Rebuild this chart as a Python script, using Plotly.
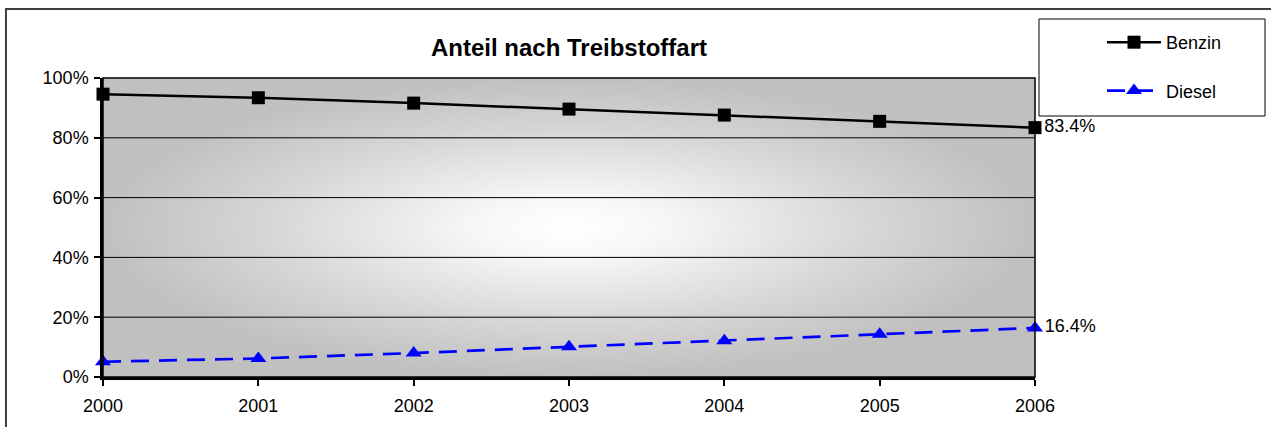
import plotly.graph_objects as go

years = [2000, 2001, 2002, 2003, 2004, 2005, 2006]
benzin = [94.6, 93.4, 91.6, 89.6, 87.6, 85.5, 83.4]
diesel = [5.1, 6.2, 8.0, 10.1, 12.1, 14.3, 16.4]
y_ticks = [0, 20, 40, 60, 80, 100]
y_tick_labels = ["0%", "20%", "40%", "60%", "80%", "100%"]
title_text = "Anteil nach Treibstoffart"
series_names = ["Benzin", "Diesel"]

FONT = "Arial, Liberation Sans, sans-serif"

def last_label(vals):
    return [""] * (len(vals) - 1) + [f"{vals[-1]:.1f}%"]

fig = go.Figure()

# gradient background of the plot area
x0, x1 = years[0], years[-1]
y0, y1 = y_ticks[0], y_ticks[-1]
fig.add_trace(go.Scatter(
    x=[x0, x1, x1, x0, x0], y=[y0, y0, y1, y1, y0],
    mode="lines", fill="toself", line=dict(width=0),
    fillgradient=dict(type="radial",
                      colorscale=[[0, "#ffffff"], [0.2, "#f7f7f7"], [0.65, "#d6d6d6"], [1, "#c0c0c0"]]),
    hoverinfo="skip", showlegend=False,
))

fig.add_trace(go.Scatter(
    x=years, y=benzin, name=series_names[0],
    mode="lines+markers+text",
    line=dict(color="black", width=2.5),
    marker=dict(symbol="square", size=13, color="black"),
    text=last_label(benzin), textposition="middle right",
    textfont=dict(family=FONT, size=18, color="black"),
    cliponaxis=False, legendgroup="a",
))
fig.add_trace(go.Scatter(
    x=years, y=diesel, name=series_names[1],
    mode="lines+markers+text",
    line=dict(color="#0000ff", width=2.7, dash="18px,10px"),
    marker=dict(symbol="triangle-up", size=14, color="#0000ff"),
    text=last_label(diesel), textposition="middle right",
    textfont=dict(family=FONT, size=18, color="black"),
    cliponaxis=False, legendgroup="b",
))

T, B = 78, 50
PH = 427 - T - B
def py(px):
    return (427 - B - px) / PH

# gridlines (drawn above gradient fill)
for t in y_ticks[1:-1]:
    fig.add_shape(type="line", xref="paper", yref="y", x0=0, x1=1, y0=t, y1=t,
                  line=dict(color="black", width=1), layer="above")
# plot-area border
fig.add_shape(type="rect", xref="paper", yref="paper", x0=0, x1=1, y0=0, y1=1,
              line=dict(color="black", width=1.5), layer="above")
# outer chart frame
fig.add_shape(type="rect", xref="paper", yref="paper", x0=-0.1041, x1=1.3, y0=-0.3, y1=py(9),
              line=dict(color="#404040", width=2), layer="above")
# legend frame
fig.add_shape(type="rect", xref="paper", yref="paper",
              x0=(1039 - 103) / 932, x1=(1265 - 103) / 932,
              y0=py(116), y1=py(19),
              line=dict(color="black", width=1), fillcolor="white", layer="below")

fig.update_layout(
    width=1271, height=427,
    margin=dict(l=103, r=236, t=T, b=B),
    paper_bgcolor="white", plot_bgcolor="#c0c0c0",
    font=dict(family=FONT, size=18, color="black"),
    title=dict(text=f"<b>{title_text}</b>", x=0.5, xref="paper", xanchor="center",
               y=1 - 48 / 427, yref="container", yanchor="middle",
               font=dict(family=FONT, size=24, color="black")),
    showlegend=True,
    legend=dict(x=(1102 - 103) / 932, y=py(24), xanchor="left", yanchor="top",
                bgcolor="rgba(0,0,0,0)", borderwidth=0,
                font=dict(family=FONT, size=18, color="black"),
                traceorder="grouped", tracegroupgap=22,
                itemwidth=54),
    xaxis=dict(range=[x0, x1], tickmode="array", tickvals=years,
               ticktext=[str(y) for y in years],
               showgrid=False, zeroline=False, showline=True, linecolor="black", linewidth=2.5,
               ticks="outside", ticklen=6, tickwidth=2, tickcolor="black",
               ticklabelstandoff=5, tickfont=dict(family=FONT, size=18)),
    yaxis=dict(range=[y0, y1], tickmode="array", tickvals=y_ticks, ticktext=y_tick_labels,
               showgrid=False, zeroline=False, showline=True, linecolor="black", linewidth=2.5,
               ticks="outside", ticklen=6, tickwidth=2, tickcolor="black",
               ticklabelstandoff=2, tickfont=dict(family=FONT, size=18)),
)

fig.write_html("out.html", config={"displayModeBar": False},
               post_script="document.body.style.margin='0';")
